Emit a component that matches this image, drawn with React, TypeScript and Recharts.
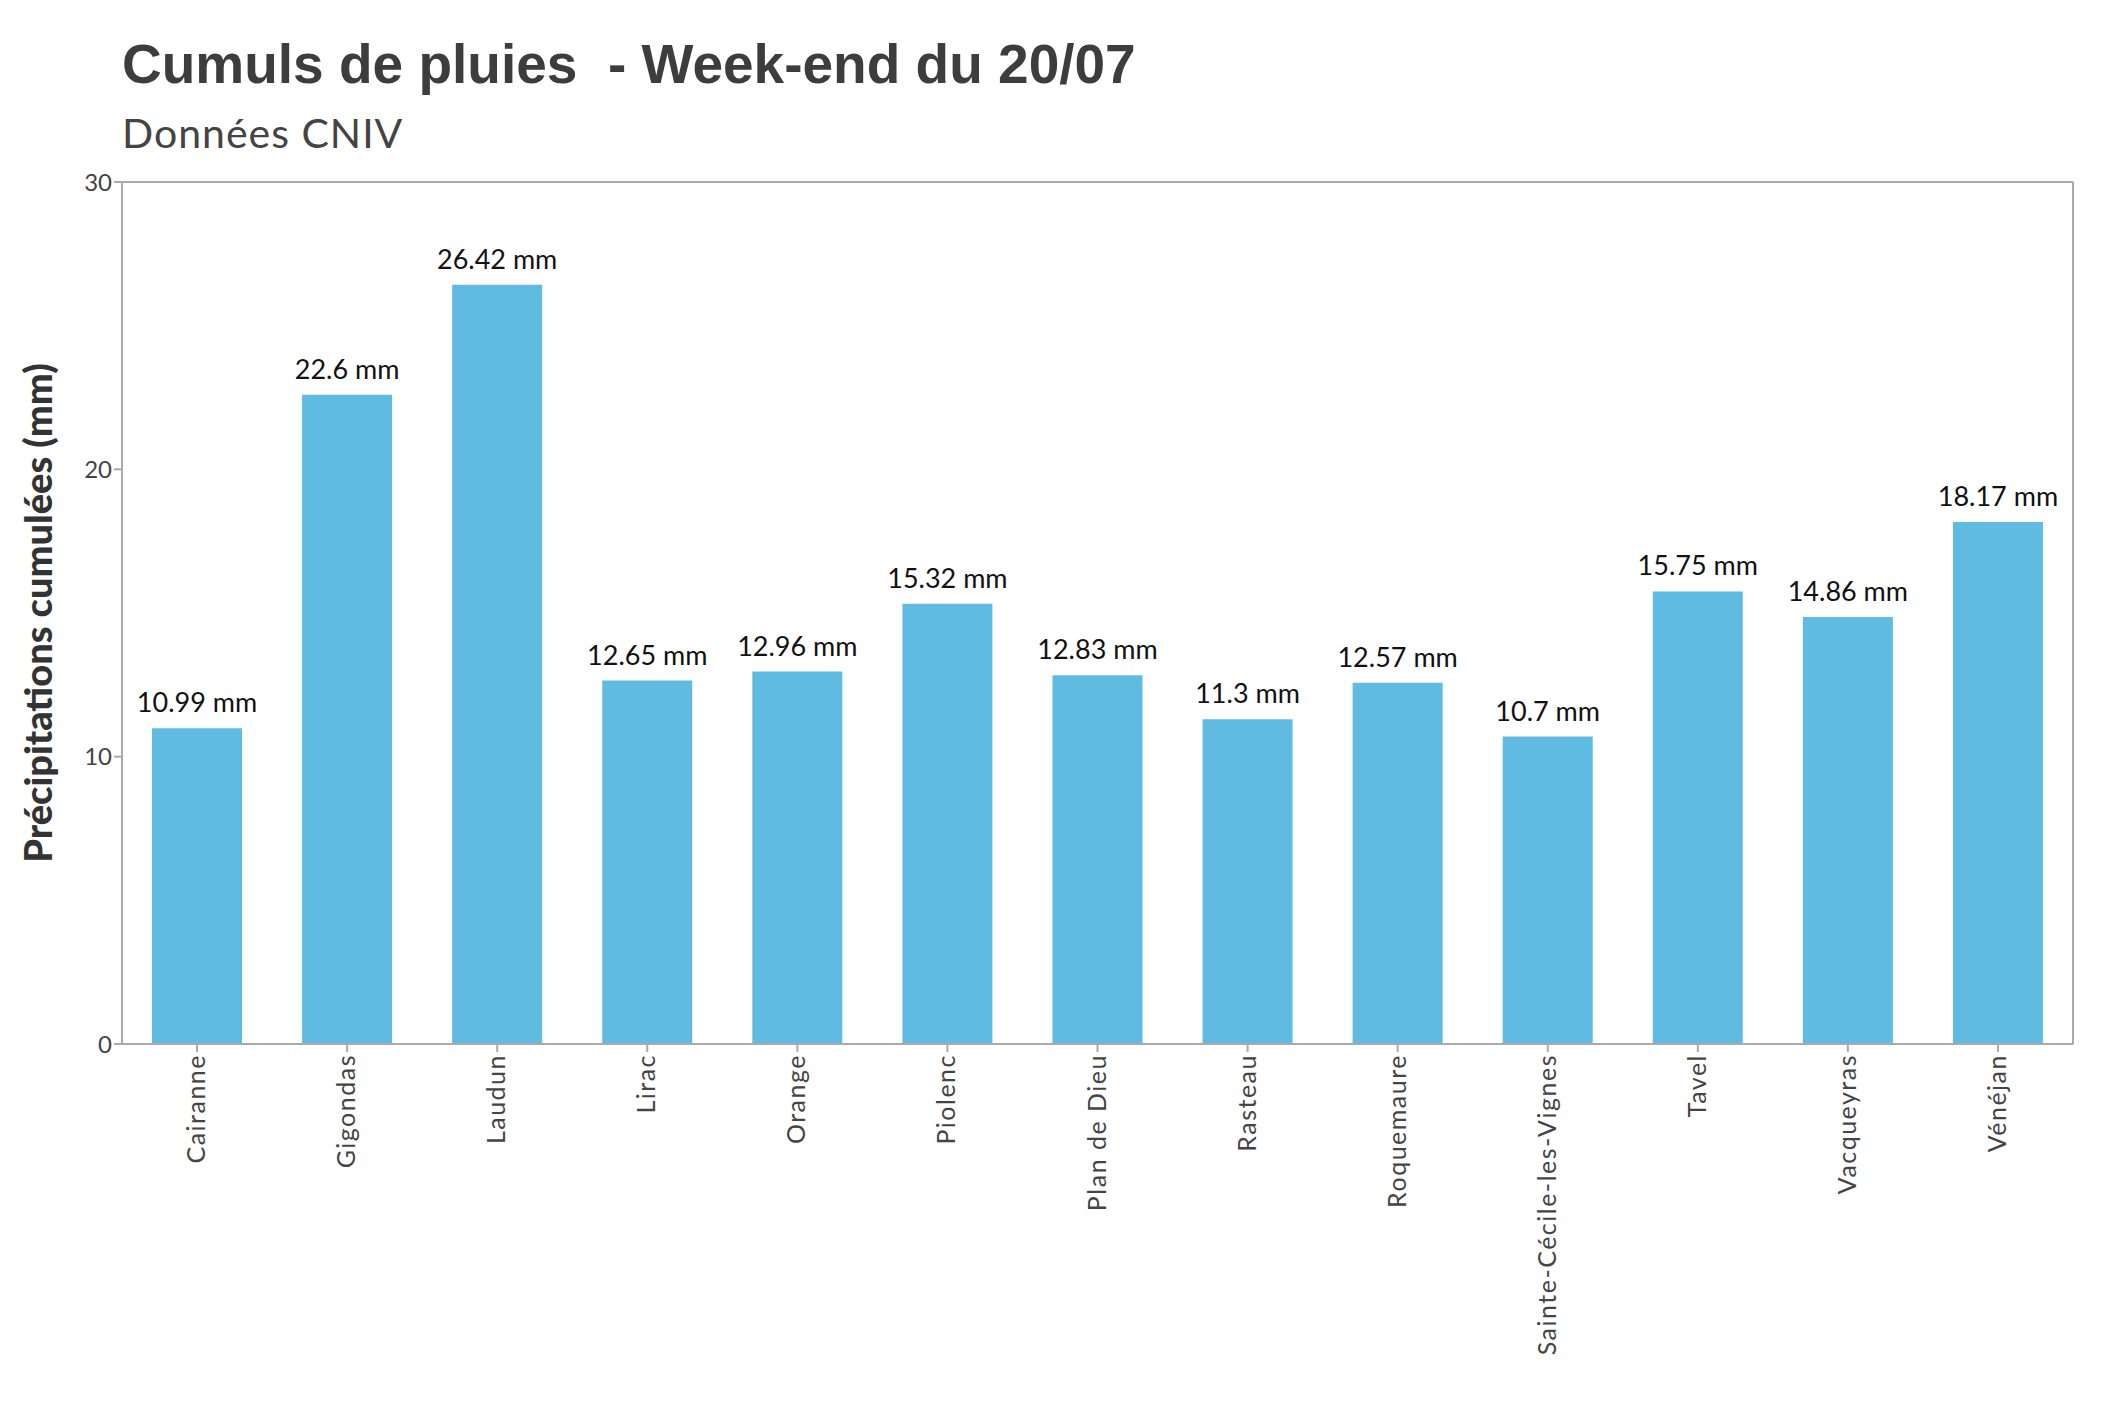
import { BarChart, Bar, XAxis, YAxis, LabelList } from "recharts";

const communes = ["Cairanne", "Gigondas", "Laudun", "Lirac", "Orange", "Piolenc", "Plan de Dieu", "Rasteau", "Roquemaure", "Sainte-Cécile-les-Vignes", "Tavel", "Vacqueyras", "Vénéjan"];
const cumuls = [10.99, 22.6, 26.42, 12.65, 12.96, 15.32, 12.83, 11.3, 12.57, 10.7, 15.75, 14.86, 18.17];
const yTicks = [0, 10, 20, 30];

const data = communes.map((c, i) => ({ commune: c, mm: cumuls[i] }));

const FONT = "Lato, 'Open Sans', sans-serif";

function RotTick({ x, y, payload }: any) {
  return (
    <g transform={`translate(${x},${y})`}>
      <text transform="rotate(-90)" textAnchor="end" dy={8} fill="#444" fontSize={25} fontFamily={FONT} letterSpacing={1.5}>
        {payload.value}
      </text>
    </g>
  );
}

export default function App() {
  return (
    <div style={{ position: "relative", width: 2117, height: 1409 }}>
      <div style={{ position: "absolute", left: 114, top: 24, fontFamily: "'Liberation Sans', Arial, sans-serif", fontWeight: "bold", fontSize: 55, color: "#3d3d3d", whiteSpace: "pre" }}>
        {"Cumuls de pluies  - Week-end du 20/07"}
      </div>
      <div style={{ position: "absolute", left: 114, top: 100, fontFamily: FONT, fontSize: 41, color: "#444", letterSpacing: 1 }}>
        Données CNIV
      </div>
      <BarChart width={2117} height={1409} data={data} margin={{ top: 173, right: 51, bottom: 0, left: 0 }} barCategoryGap="20%">
        <XAxis dataKey="commune" interval={0} height={373} tick={<RotTick />} stroke="#aaa" strokeWidth={2} tickLine={{ stroke: "#aaa" }} tickSize={8} />
        <XAxis xAxisId="top" orientation="top" dataKey="commune" tick={false} tickLine={false} stroke="#aaa" strokeWidth={2} height={1} />
        <YAxis domain={[0, 30]} ticks={yTicks} width={114} stroke="#aaa" strokeWidth={2} tickSize={8}
          tick={{ fill: "#444", fontSize: 24, fontFamily: FONT }}
          label={{ value: "Précipitations cumulées (mm)", angle: -90, position: "insideLeft", dx: 26, style: { textAnchor: "middle", fontFamily: FONT, fontWeight: 900, fontSize: 38, fill: "#333" } }} />
        <YAxis yAxisId="right" orientation="right" domain={[0, 30]} tick={false} tickLine={false} stroke="#aaa" strokeWidth={2} width={1} />
        <Bar dataKey="mm" fill="#5fbbe1" isAnimationActive={false}>
          <LabelList dataKey="mm" position="top" offset={16} formatter={(v: any) => `${v} mm`} style={{ fill: "#111", fontSize: 27, fontFamily: FONT }} />
        </Bar>
      </BarChart>
    </div>
  );
}
